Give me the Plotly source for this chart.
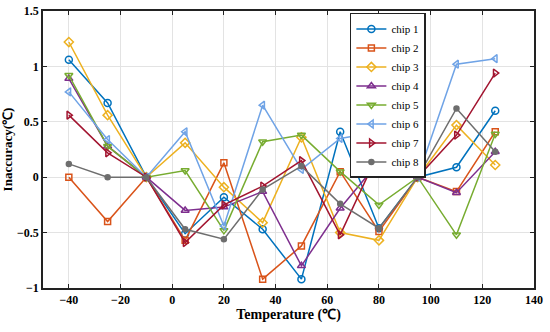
import plotly.graph_objects as go

temperature = [-40, -25, -10, 5, 20, 35, 50, 65, 80, 95, 110, 125]

chip1 = [1.06, 0.67, 0, -0.51, -0.18, -0.47, -0.92, 0.41, -0.46, 0, 0.09, 0.60]
chip2 = [0.00, -0.40, 0, -0.57, 0.13, -0.92, -0.62, 0.05, -0.49, 0, -0.13, 0.41]
chip3 = [1.22, 0.56, 0, 0.31, -0.09, -0.41, 0.36, -0.50, -0.57, 0, 0.47, 0.11]
chip4 = [0.89, 0.28, 0, -0.30, -0.27, -0.13, -0.80, -0.28, 0.14, 0, -0.14, 0.23]
chip5 = [0.92, 0.28, 0, 0.06, -0.48, 0.32, 0.38, 0.05, -0.25, 0, -0.52, 0.39]
chip6 = [0.77, 0.34, 0, 0.41, -0.44, 0.65, 0.07, 0.35, 0.41, 0, 1.02, 1.07]
chip7 = [0.56, 0.22, 0, -0.59, -0.25, -0.08, 0.15, -0.52, 0.23, 0, 0.38, 0.94]
chip8 = [0.12, 0.00, 0, -0.47, -0.56, -0.11, 0.10, -0.24, -0.46, 0, 0.62, 0.23]

series_names = ["chip 1", "chip 2", "chip 3", "chip 4", "chip 5", "chip 6", "chip 7", "chip 8"]
series_values = [chip1, chip2, chip3, chip4, chip5, chip6, chip7, chip8]
colors = ["#0072BD", "#D95319", "#EDB120", "#7E2F8E", "#77AC30", "#6FA3E6", "#A2142F", "#6E6E6E"]
symbols = ["circle-open", "square-open", "diamond-open", "triangle-up-open",
           "triangle-down-open", "triangle-left-open", "triangle-right-open", "circle"]
sizes = [7, 6, 7, 7, 7, 7, 7, 5]

x_ticks = [-40, -20, 0, 20, 40, 60, 80, 100, 120, 140]
y_ticks = [-1, -0.5, 0, 0.5, 1, 1.5]
y_ticklabels = ["\u22121", "\u22120.5", "0", "0.5", "1", "1.5"]
x_ticklabels = ["\u221240", "\u221220", "0", "20", "40", "60", "80", "100", "120", "140"]

fig = go.Figure()
for name, vals, c, s, sz in zip(series_names, series_values, colors, symbols, sizes):
    fig.add_trace(go.Scatter(
        x=temperature, y=vals, name=name, mode="lines+markers",
        line=dict(color=c, width=1.5),
        marker=dict(symbol=s, size=sz, color=c, line=dict(color=c, width=1.5)),
    ))

axis_common = dict(
    showline=True, linecolor="#222222", linewidth=1.5, mirror="allticks",
    ticks="inside", ticklen=4, tickwidth=1.2, tickcolor="#222222",
    showgrid=True, gridcolor="#E3E3E3", gridwidth=1, zeroline=False,
    automargin=False,
    tickfont=dict(family="Liberation Serif", size=12, color="black", weight="bold"),
)

fig.update_layout(
    width=550, height=332,
    margin=dict(l=43, r=16, t=11, b=44, autoexpand=False),
    paper_bgcolor="white", plot_bgcolor="white",
    font=dict(family="Liberation Serif", color="black"),
    hovermode=False,
    xaxis=dict(range=[-50, 140], tickvals=x_ticks, ticktext=x_ticklabels,
               title=dict(text="Temperature (\u2103)", standoff=2,
                          font=dict(family="Liberation Serif", size=14, color="black", weight="bold")),
               **axis_common),
    yaxis=dict(range=[-1, 1.5], tickvals=y_ticks, ticktext=y_ticklabels,
               title=dict(text="Inaccuracy(\u2103)", standoff=4,
                          font=dict(family="Liberation Serif", size=13, color="black", weight="bold")),
               **axis_common),
    legend=dict(x=0.625, y=0.993, xanchor="left", yanchor="top",
                bgcolor="white", bordercolor="#222222", borderwidth=1.5,
                font=dict(family="Liberation Serif", size=11, color="black"),
                tracegroupgap=0, itemwidth=30),
    showlegend=True,
)

fig.write_html("out.html", config={"displayModeBar": False},
               post_script="document.body.style.margin='0';")
